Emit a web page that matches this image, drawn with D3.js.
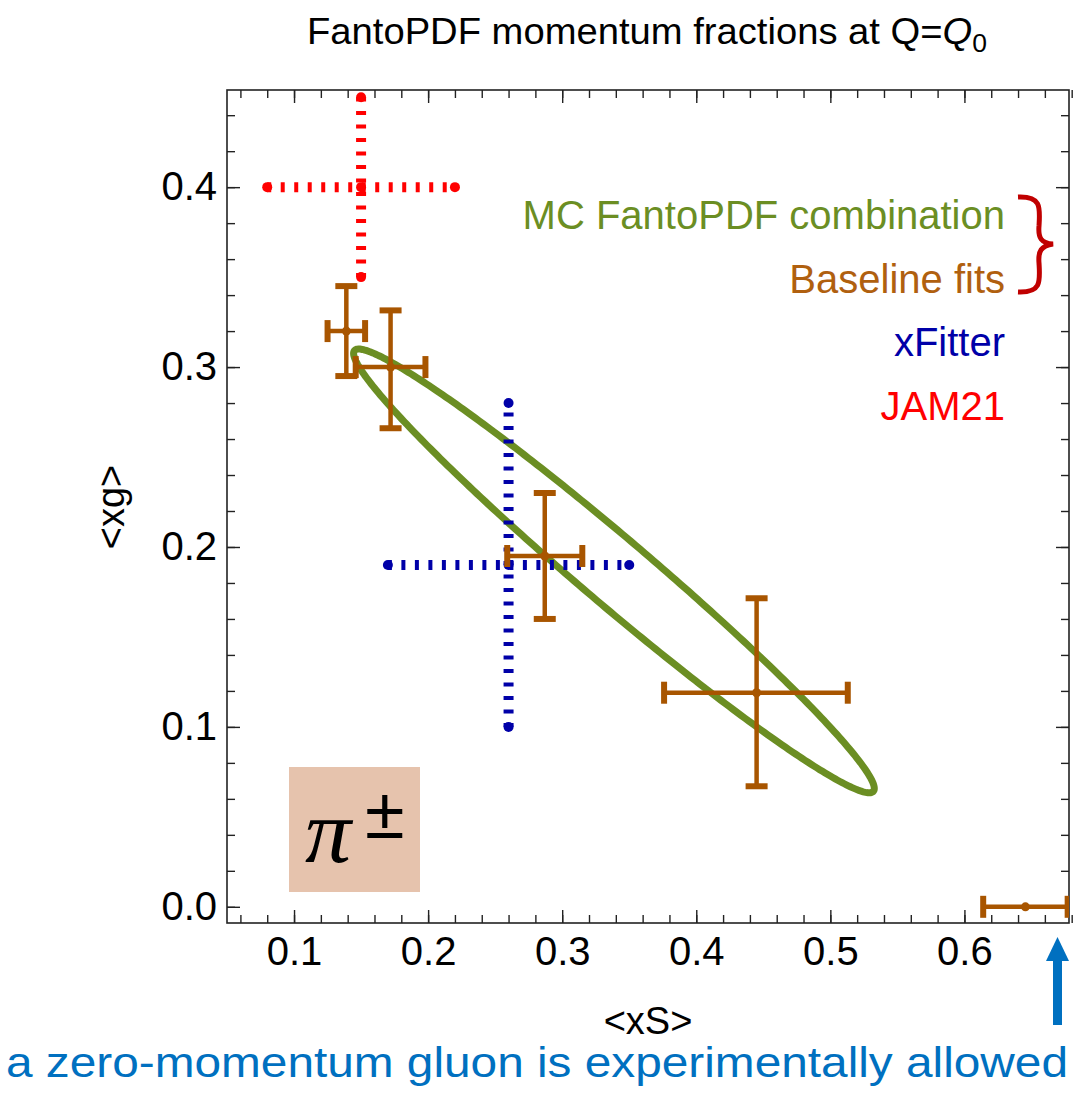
<!DOCTYPE html>
<meta charset="utf-8">
<style>
body{margin:0;background:#fff;}
text{font-family:"Liberation Sans",Arial,sans-serif;}
.frame{fill:none;stroke:#222;stroke-width:1.6px;}
.tick line{stroke:#222;stroke-width:1.4px;}
.tick text{font-size:40px;fill:#000;}
.domain{display:none;}
</style>
<body>
<script src="https://cdn.jsdelivr.net/npm/d3@7"></script>
<script>
// baseline fits (xS, xg) with error ranges
var baseX   = [0.139, 0.172, 0.287, 0.445, 0.6455];
var baseY   = [0.320, 0.300, 0.195, 0.119, 0.000];
var baseXlo = [0.125, 0.146, 0.259, 0.376, 0.614];
var baseXhi = [0.153, 0.198, 0.315, 0.513, 0.677];
var baseYlo = [0.295, 0.266, 0.160, 0.067, 0.000];
var baseYhi = [0.345, 0.3315, 0.230, 0.1715, 0.000];

// xFitter and JAM21: [centre x, centre y, x lo, x hi, y lo, y hi]
var xfitter = [0.26, 0.19, 0.17, 0.35, 0.10, 0.28];
var jam21   = [0.15, 0.40, 0.08, 0.22, 0.35, 0.45];

// MC combination ellipse: centre, semi-axis, conjugate semi-axis
var ellCentre = [0.3386, 0.1867];
var ellA = [0.1935, -0.1225];
var ellB = [0.0162, 0.0142];

var xMajor = [0.1, 0.2, 0.3, 0.4, 0.5, 0.6];
var yMajor = [0.0, 0.1, 0.2, 0.3, 0.4];
var xMinor = d3.range(0.06, 0.68, 0.02);
var yMinor = d3.range(0.0, 0.45, 0.02);

var legendLabels = ["MC FantoPDF combination", "Baseline fits", "xFitter", "JAM21"];
var legendColors = ["#6b8e23", "#b0600f", "#0000a8", "#ff0000"];

var W = 1076, H = 1095;
var pL = 227, pR = 1069, pT = 90, pB = 923;
var brown = "#a85500";

var svg = d3.select("body").append("svg").attr("width", W).attr("height", H);

var x = d3.scaleLinear().domain([0.05, 0.678]).range([pL, pR]);
var y = d3.scaleLinear().domain([-0.009, 0.454]).range([pB, pT]);

svg.append("defs").append("clipPath").attr("id", "plotclip")
  .append("rect").attr("x", pL).attr("y", pT)
  .attr("width", pR - pL).attr("height", pB - pT);

// title
var title = svg.append("text").attr("x", 307).attr("y", 44)
  .attr("textLength", 680).attr("lengthAdjust", "spacingAndGlyphs")
  .style("font-size", "36px");
title.append("tspan").text("FantoPDF momentum fractions at Q=");
title.append("tspan").style("font-style", "italic").text("Q");
title.append("tspan").attr("dy", 8).style("font-size", "25px").text("0");

// axes, ticks pointing inward on all four sides
function fmt(d){ return d3.format(".1f")(d); }
svg.append("g").attr("transform", "translate(0," + pB + ")")
  .call(d3.axisBottom(x).tickValues(xMinor).tickSize(-8).tickFormat(""));
svg.append("g").attr("transform", "translate(0," + pB + ")")
  .call(d3.axisBottom(x).tickValues(xMajor).tickSize(-13).tickPadding(14).tickFormat(fmt));
svg.append("g").attr("transform", "translate(0," + pT + ")")
  .call(d3.axisTop(x).tickValues(xMinor).tickSize(-8).tickFormat(""));
svg.append("g").attr("transform", "translate(0," + pT + ")")
  .call(d3.axisTop(x).tickValues(xMajor).tickSize(-13).tickFormat(""));
svg.append("g").attr("transform", "translate(" + pL + ",0)")
  .call(d3.axisLeft(y).tickValues(yMinor).tickSize(-8).tickFormat(""));
svg.append("g").attr("transform", "translate(" + pL + ",0)")
  .call(d3.axisLeft(y).tickValues(yMajor).tickSize(-13).tickPadding(10).tickFormat(fmt));
svg.append("g").attr("transform", "translate(" + pR + ",0)")
  .call(d3.axisRight(y).tickValues(yMinor).tickSize(-8).tickFormat(""));
svg.append("g").attr("transform", "translate(" + pR + ",0)")
  .call(d3.axisRight(y).tickValues(yMajor).tickSize(-13).tickFormat(""));

svg.append("rect").attr("class", "frame")
  .attr("x", pL).attr("y", pT).attr("width", pR - pL).attr("height", pB - pT);

// axis titles
svg.append("text").attr("transform", "translate(124,507) rotate(-90)")
  .attr("text-anchor", "middle").style("font-size", "38px").text("<xg>");
svg.append("text").attr("x", 648).attr("y", 1034)
  .attr("text-anchor", "middle").style("font-size", "38px").text("<xS>");

// pi box
svg.append("rect").attr("x", 289).attr("y", 767).attr("width", 131).attr("height", 125)
  .attr("fill", "#e6c3ad");
svg.append("text").attr("x", 305).attr("y", 862)
  .style("font-family", "'Liberation Serif','DejaVu Serif',serif")
  .style("font-style", "italic").style("font-size", "92px").text("π");
svg.append("text").attr("x", 365).attr("y", 838)
  .style("font-size", "72px").text("±");

var plot = svg.append("g").attr("clip-path", "url(#plotclip)");

// ellipse
var ts = d3.range(0, 2 * Math.PI + 0.001, Math.PI / 180);
var ellPts = ts.map(function(t){
  return [ellCentre[0] + ellA[0] * Math.cos(t) + ellB[0] * Math.sin(t),
          ellCentre[1] + ellA[1] * Math.cos(t) + ellB[1] * Math.sin(t)];
});
plot.append("path").datum(ellPts)
  .attr("d", d3.line().x(function(d){ return x(d[0]); }).y(function(d){ return y(d[1]); }).curve(d3.curveLinearClosed))
  .attr("fill", "none").attr("stroke", "#6b8e23").attr("stroke-width", 7);

// dotted crosses
function dotted(p, col){
  var g = plot.append("g");
  g.append("line").attr("x1", x(p[2])).attr("x2", x(p[3])).attr("y1", y(p[1])).attr("y2", y(p[1]))
    .attr("stroke", col).attr("stroke-width", 10).attr("stroke-dasharray", "4,9.5");
  g.append("line").attr("x1", x(p[0])).attr("x2", x(p[0])).attr("y1", y(p[4])).attr("y2", y(p[5]))
    .attr("stroke", col).attr("stroke-width", 10).attr("stroke-dasharray", "4,9.5");
  var pts = [[p[0], p[1]], [p[2], p[1]], [p[3], p[1]], [p[0], p[4]], [p[0], p[5]]];
  g.selectAll("circle").data(pts).enter().append("circle")
    .attr("cx", function(d){ return x(d[0]); }).attr("cy", function(d){ return y(d[1]); })
    .attr("r", 5).attr("fill", col);
}
dotted(jam21, "#ff0000");
dotted(xfitter, "#0000a8");

// baseline error bars
var cap = 11;
baseX.forEach(function(bx, i){
  var g = plot.append("g").attr("stroke", brown).attr("stroke-width", 4.5);
  var cx = x(bx), cy = y(baseY[i]);
  g.append("line").attr("x1", x(baseXlo[i])).attr("x2", x(baseXhi[i])).attr("y1", cy).attr("y2", cy);
  g.append("line").attr("x1", x(baseXlo[i])).attr("x2", x(baseXlo[i])).attr("y1", cy - cap).attr("y2", cy + cap).attr("stroke-width", 6);
  g.append("line").attr("x1", x(baseXhi[i])).attr("x2", x(baseXhi[i])).attr("y1", cy - cap).attr("y2", cy + cap).attr("stroke-width", 6);
  if (baseYhi[i] > baseYlo[i]) {
    g.append("line").attr("x1", cx).attr("x2", cx).attr("y1", y(baseYlo[i])).attr("y2", y(baseYhi[i]));
    g.append("line").attr("x1", cx - cap).attr("x2", cx + cap).attr("y1", y(baseYlo[i])).attr("y2", y(baseYlo[i])).attr("stroke-width", 6);
    g.append("line").attr("x1", cx - cap).attr("x2", cx + cap).attr("y1", y(baseYhi[i])).attr("y2", y(baseYhi[i])).attr("stroke-width", 6);
  }
  plot.append("circle").attr("cx", cx).attr("cy", cy).attr("r", 4.5).attr("fill", brown);
});

// legend
svg.selectAll(".leg").data(legendLabels).enter().append("text")
  .attr("class", "leg").attr("x", 1005)
  .attr("y", function(d, i){ return 229 + i * 63.5; })
  .attr("text-anchor", "end").style("font-size", "40px")
  .attr("fill", function(d, i){ return legendColors[i]; })
  .text(function(d){ return d; });

// brace grouping first two legend entries
svg.append("path")
  .attr("d", "M1018,197 C1042,196 1040,208 1039,226 C1038,238 1041,243 1053,244 C1041,246 1038,251 1039,263 C1040,281 1042,293 1018,292")
  .attr("fill", "none").attr("stroke", "#c00000").attr("stroke-width", 5);

// annotation arrow and text
svg.append("rect").attr("x", 1053).attr("y", 959).attr("width", 9).attr("height", 66).attr("fill", "#0070c0");
svg.append("path").attr("d", "M1046,961 L1057.5,937 L1069,961 Z").attr("fill", "#0070c0");
svg.append("text").attr("x", 6).attr("y", 1077)
  .attr("textLength", 1062).attr("lengthAdjust", "spacingAndGlyphs")
  .style("font-size", "42px").attr("fill", "#0070c0")
  .text("a zero-momentum gluon is experimentally allowed");
</script>
</body>
